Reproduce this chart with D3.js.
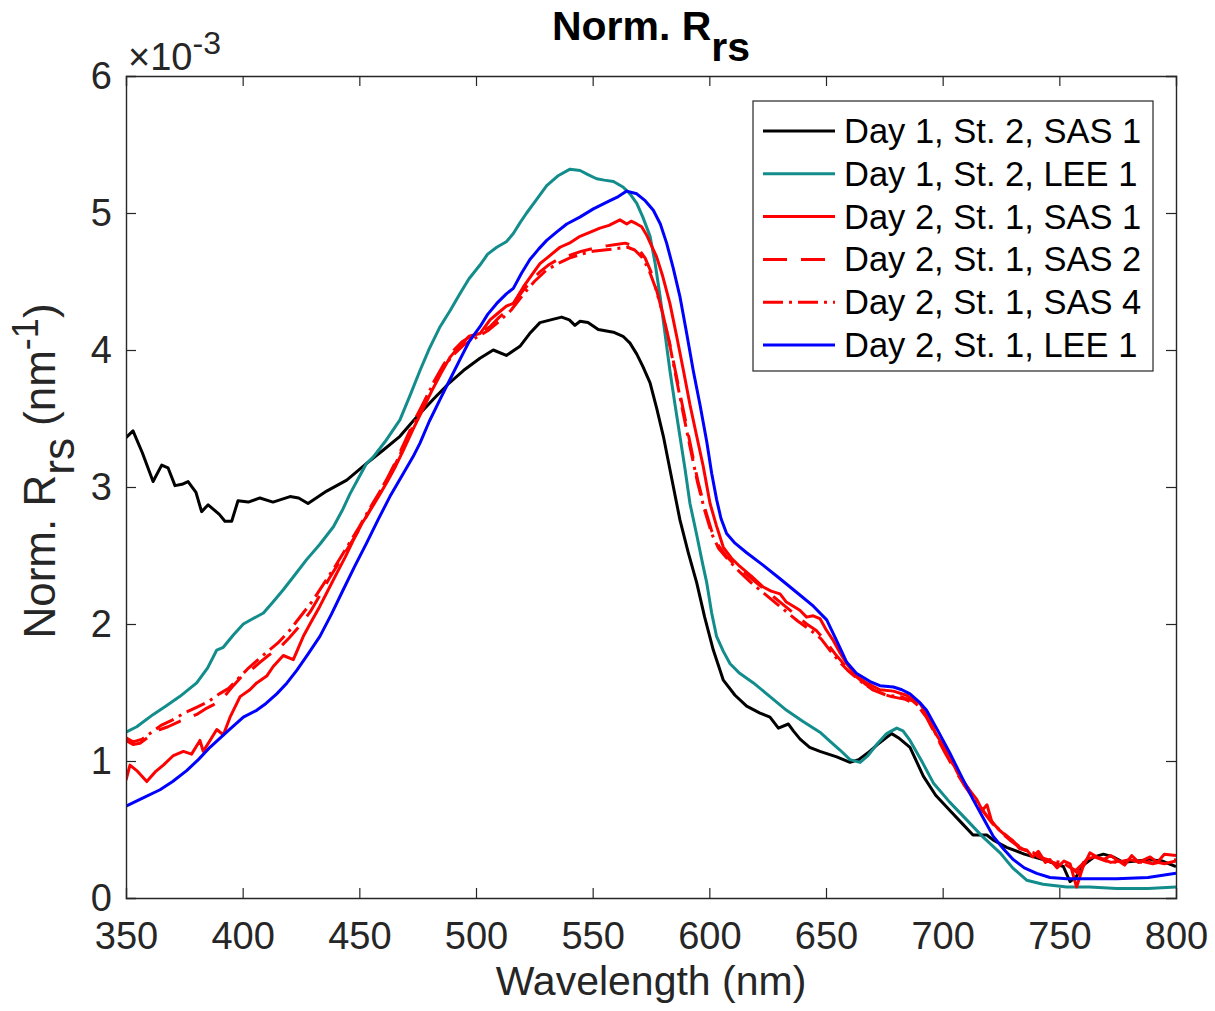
<!DOCTYPE html>
<html>
<head>
<meta charset="utf-8">
<script src="https://cdn.jsdelivr.net/npm/d3@7"></script>
<style>
  html, body { margin: 0; padding: 0; background: #fff; }
  svg { display: block; font-family: "Liberation Sans", Arial, Helvetica, sans-serif; }
</style>
</head>
<body>
<svg id="chart" width="1215" height="1011"></svg>
<script>
// ---------- DATA (values in units of 1e-3 nm^-1) ----------
const xTicks = [350, 400, 450, 500, 550, 600, 650, 700, 750, 800];
const yTicks = [0, 1, 2, 3, 4, 5, 6];
const legendLabels = [
  "Day 1, St. 2, SAS 1",
  "Day 1, St. 2, LEE 1",
  "Day 2, St. 1, SAS 1",
  "Day 2, St. 1, SAS 2",
  "Day 2, St. 1, SAS 4",
  "Day 2, St. 1, LEE 1"
];

const d1SasWl = [350,353,357,361.6,365.3,368,371,374,376.6,380,382.4,385.2,390,392.4,395.3,398,402.4,407.4,413,420.3,424,428,436,444.6,453,460.3,467.4,474,481.7,488,494.6,501.7,507.4,513,519,523,527.4,532,536.7,540,542.4,544.6,548,552.4,558.9,563,566,568.9,571.5,574.6,577.5,580.3,584.6,587.4,591,594.6,598,601.7,606,611,616,621.7,626,629.6,633.9,636,638.9,643,647.4,651,654.6,660.3,664,668,672,678.1,681,686,691.7,697,703,708,713,718.9,722,727.4,735,743,751.7,754.6,757,760.3,765,768.9,773,777.4,783,788.9,794,800];
const d1SasVal = [3.36,3.41,3.25,3.04,3.16,3.14,3.01,3.02,3.04,2.96,2.82,2.87,2.80,2.75,2.75,2.90,2.89,2.92,2.89,2.93,2.92,2.88,2.97,3.05,3.17,3.27,3.37,3.50,3.64,3.75,3.85,3.94,4.00,3.96,4.03,4.12,4.20,4.22,4.24,4.22,4.18,4.21,4.20,4.15,4.13,4.10,4.05,3.97,3.88,3.76,3.57,3.37,3.00,2.76,2.52,2.30,2.05,1.81,1.59,1.48,1.40,1.35,1.32,1.24,1.27,1.22,1.16,1.10,1.07,1.05,1.03,0.99,1.01,1.06,1.12,1.20,1.17,1.10,0.89,0.75,0.64,0.55,0.46,0.46,0.42,0.37,0.32,0.28,0.23,0.12,0.15,0.24,0.30,0.32,0.30,0.26,0.27,0.28,0.27,0.23];

const d1LeeWl = [350,354.6,361.7,367,373,380.3,385,388.9,391.7,396,400.3,404.5,408.9,413,417.4,422,427.4,433,438.9,443,446,449.5,453,456,461,467.4,472,476,480,484.6,489,493.1,497,501.7,505,508.9,513,516,518.9,521.7,526,530.3,535,540.3,544.6,548,551.7,555,558.9,563,566,568.9,571.5,574.6,576.8,578.9,581,583.1,585.3,587.4,589.6,591.7,594.6,597,598.9,601,603.1,606,608.9,613,618.9,626,633.1,640,647.4,652,656,660.3,664.6,668,671.7,676,680.3,683,686,691,696,703,710.3,717,724.6,730,736,743,753.1,763,774.6,788,800];
const d1LeeVal = [1.21,1.25,1.34,1.40,1.47,1.57,1.68,1.81,1.83,1.92,2.00,2.04,2.08,2.16,2.25,2.35,2.47,2.58,2.71,2.84,2.95,3.06,3.17,3.22,3.33,3.49,3.68,3.85,4.01,4.17,4.29,4.41,4.52,4.62,4.70,4.75,4.79,4.85,4.93,5.00,5.10,5.20,5.27,5.32,5.31,5.28,5.25,5.24,5.23,5.19,5.14,5.07,4.97,4.83,4.63,4.39,4.12,3.85,3.60,3.37,3.13,2.88,2.65,2.45,2.30,2.08,1.91,1.80,1.71,1.64,1.57,1.47,1.37,1.29,1.21,1.14,1.08,1.01,0.99,1.04,1.12,1.20,1.24,1.22,1.15,1.00,0.84,0.70,0.57,0.45,0.33,0.22,0.13,0.10,0.08,0.08,0.07,0.07,0.08];

const d2Sas1Wl = [350,351.7,354.6,358.9,362.5,366,370.3,374.6,378.1,381.7,383.1,386,388.9,391.7,394.6,398.9,403.1,406,410.3,413.1,417.4,421.7,426,429.5,433.1,436.7,440.3,444,447.4,451,455,458.9,462,465.5,468.9,473,477,481,485,489,493,497,501.7,506,509.5,513,516,520.3,524,527.4,531,536,540,544.6,549,553.1,557,561.7,564.6,566.5,568.9,571,573.1,575,577.4,580,583.1,586,588.9,591.7,594.6,597.4,600.3,603,606,609.5,613.1,618,623.1,626.5,630.3,633,636,638.8,641.7,644.5,647.4,650,653.1,656,658.9,663,667.4,673.1,678.9,684.5,690.3,693.5,697,700,703,706.5,710,714.6,717,719,721,724,727.4,730,733,736,738.5,741,744,746,749,752,754.6,757.4,760,763.1,766,769,772,774.6,778,781,784,788.9,792,795,800];
const d2Sas1Val = [0.86,0.97,0.93,0.85,0.92,0.97,1.04,1.07,1.05,1.15,1.07,1.15,1.23,1.19,1.32,1.47,1.52,1.57,1.62,1.69,1.77,1.74,1.91,2.02,2.13,2.25,2.37,2.49,2.61,2.73,2.84,2.95,3.04,3.15,3.27,3.42,3.56,3.70,3.83,3.95,4.03,4.10,4.12,4.22,4.27,4.32,4.34,4.46,4.55,4.63,4.68,4.75,4.78,4.83,4.86,4.89,4.91,4.95,4.92,4.94,4.92,4.90,4.84,4.77,4.68,4.54,4.34,4.10,3.85,3.60,3.37,3.15,2.88,2.72,2.56,2.48,2.42,2.35,2.27,2.24,2.22,2.16,2.13,2.10,2.05,2.06,2.04,1.96,1.88,1.79,1.71,1.62,1.57,1.52,1.51,1.48,1.42,1.33,1.20,1.12,1.03,0.91,0.82,0.72,0.64,0.68,0.56,0.50,0.45,0.42,0.36,0.35,0.30,0.34,0.26,0.28,0.22,0.27,0.25,0.08,0.22,0.33,0.30,0.28,0.31,0.28,0.24,0.31,0.26,0.30,0.26,0.32,0.31];

const d2Sas2Wl = [350,353,356,360,364.6,368,373,376,380.3,384,387.4,390,393.1,396,400.3,404,407.4,411,416,420,424.6,429,433.1,437,441.7,446,450.3,454.5,458.9,462.5,466,470,474,478,482,486,490,494,498,502,506,510,513,516,520,524,527.4,531,535,540,545,550,556,560,564,567.4,570,572.5,575,577.5,580,583,586,589,592,595,598,601,604,607,611,616,621,626,631,636,641.7,646,650,654,658,662,667,672,678,684,689,693,697,701,705,709,713,717,721,725,729,733,737,741,745,749,753,757,760,764,768,772,776,780,785,790,795,800];
const d2Sas2Val = [1.15,1.12,1.13,1.18,1.23,1.25,1.29,1.31,1.34,1.38,1.41,1.44,1.49,1.55,1.63,1.67,1.72,1.77,1.83,1.90,1.99,2.09,2.21,2.33,2.46,2.58,2.70,2.83,2.97,3.08,3.20,3.35,3.50,3.63,3.77,3.89,3.99,4.06,4.10,4.13,4.17,4.24,4.28,4.34,4.43,4.51,4.57,4.62,4.66,4.69,4.72,4.74,4.76,4.77,4.78,4.76,4.73,4.67,4.57,4.43,4.27,4.05,3.80,3.55,3.30,3.05,2.85,2.68,2.57,2.50,2.43,2.36,2.29,2.22,2.15,2.08,2.00,1.95,1.87,1.78,1.70,1.63,1.56,1.50,1.47,1.45,1.41,1.32,1.19,1.06,0.94,0.83,0.73,0.64,0.55,0.48,0.42,0.37,0.33,0.30,0.27,0.25,0.24,0.20,0.25,0.32,0.29,0.26,0.27,0.24,0.27,0.25,0.27,0.28];

const d2Sas4Wl = [350,353,357,361,365,370,375,380,385,390,394,398,402,406,410,415,420,425,430,435,440,445,450,455,460,465,470,475,480,485,490,495,500,505,510,515,520,525,530,535,540,545,550,555,560,565,568,571,574,577,580,583,586,589,592,595,598,601,604,608,613,618,623,628,633,638,643,648,652,656,660,665,670,676,682,687,691,695,699,703,707,711,715,719,723,727,731,735,739,743,747,751,755,758,761,765,770,775,780,785,790,795,800];
const d2Sas4Val = [1.17,1.14,1.16,1.21,1.26,1.30,1.35,1.39,1.43,1.49,1.53,1.60,1.67,1.73,1.79,1.86,1.95,2.06,2.17,2.30,2.43,2.57,2.71,2.86,3.00,3.15,3.33,3.52,3.70,3.85,3.96,4.04,4.09,4.14,4.21,4.29,4.40,4.50,4.58,4.63,4.67,4.70,4.72,4.73,4.74,4.75,4.73,4.68,4.59,4.45,4.27,4.04,3.78,3.52,3.27,3.03,2.83,2.66,2.55,2.47,2.38,2.30,2.23,2.16,2.09,2.02,1.96,1.89,1.80,1.72,1.65,1.58,1.52,1.48,1.47,1.44,1.38,1.27,1.13,1.02,0.90,0.80,0.69,0.60,0.52,0.46,0.40,0.35,0.33,0.29,0.27,0.26,0.22,0.18,0.28,0.30,0.27,0.26,0.28,0.26,0.27,0.25,0.27];

const d2LeeWl = [350,356,364.6,370,376,381,386,393.1,400.3,406,410,414.6,419,423.1,428,433.1,438,443.1,448,453.1,458,463.1,468.9,473,476,480,484.6,489,493.1,497,501.7,505,508.9,513,516,519.5,523.1,527,530.3,534.5,538.9,544.5,550.3,557.4,561,564.6,568.9,572.5,576,579,581.7,584.5,587.4,590.3,593.1,596,598.9,601,603.1,605,607.4,611,616,623,630.3,637.5,644.6,650.3,654.5,658.9,663,668.9,673.1,678.9,682.5,686,690,693.1,698,703,708,713,717.5,721.7,726,730.3,735,740.3,746,753.1,763,774.6,788,800];
const d2LeeVal = [0.67,0.72,0.79,0.85,0.93,1.01,1.10,1.21,1.32,1.37,1.42,1.49,1.57,1.66,1.78,1.91,2.07,2.25,2.42,2.59,2.76,2.93,3.10,3.22,3.32,3.48,3.64,3.79,3.93,4.06,4.17,4.26,4.34,4.41,4.45,4.56,4.66,4.74,4.80,4.86,4.92,4.97,5.03,5.09,5.12,5.16,5.14,5.09,5.02,4.92,4.78,4.60,4.39,4.12,3.85,3.60,3.33,3.10,2.91,2.77,2.66,2.59,2.52,2.43,2.33,2.23,2.13,2.03,1.88,1.72,1.64,1.58,1.55,1.54,1.52,1.49,1.43,1.37,1.22,1.06,0.89,0.72,0.58,0.45,0.36,0.28,0.22,0.18,0.15,0.14,0.14,0.14,0.15,0.18];

const seriesWl = [d1SasWl, d1LeeWl, d2Sas1Wl, d2Sas2Wl, d2Sas4Wl, d2LeeWl];
const seriesVal = [d1SasVal, d1LeeVal, d2Sas1Val, d2Sas2Val, d2Sas4Val, d2LeeVal];
const seriesColor = ["#000000", "#138c8c", "#ff0000", "#ff0000", "#ff0000", "#0000ff"];
const seriesDash = [null, null, null, "24,14", "20,6,3,6", null];

// ---------- LAYOUT ----------
const svg = d3.select("#chart");
const L = 126, R = 1176, T = 76, B = 898;
const axisColor = "#262626";
const x = d3.scaleLinear().domain([350, 800]).range([L, R]);
const y = d3.scaleLinear().domain([0, 6]).range([B, T]);

svg.append("defs").append("clipPath").attr("id", "clip")
  .append("rect").attr("x", L).attr("y", T).attr("width", R - L).attr("height", B - T);

// lines
const line = d3.line().x(d => x(d[0])).y(d => y(d[1]));
const gLines = svg.append("g").attr("clip-path", "url(#clip)");
seriesWl.forEach((wl, i) => {
  const pts = wl.map((w, j) => [w, seriesVal[i][j]]);
  gLines.append("path")
    .datum(pts)
    .attr("d", line)
    .attr("fill", "none")
    .attr("stroke", seriesColor[i])
    .attr("stroke-width", 3)
    .attr("stroke-linejoin", "round")
    .attr("stroke-dasharray", seriesDash[i]);
});

// axes
const tickLen = 10;
const fontTick = 38;
const gx = svg.append("g").attr("transform", `translate(0,${B})`)
  .call(d3.axisBottom(x).tickValues(xTicks).tickSize(-tickLen).tickPadding(24).tickFormat(d3.format("d")));
const gxTop = svg.append("g").attr("transform", `translate(0,${T})`)
  .call(d3.axisTop(x).tickValues(xTicks).tickSize(-tickLen).tickFormat(""));
const gy = svg.append("g").attr("transform", `translate(${L},0)`)
  .call(d3.axisLeft(y).tickValues(yTicks).tickSize(-tickLen).tickPadding(14).tickFormat(d3.format("d")));
const gyR = svg.append("g").attr("transform", `translate(${R},0)`)
  .call(d3.axisRight(y).tickValues(yTicks).tickSize(-tickLen).tickFormat(""));

[gx, gxTop, gy, gyR].forEach(g => {
  g.select(".domain").attr("stroke", axisColor).attr("stroke-width", 1.4);
  g.selectAll(".tick line").attr("stroke", axisColor).attr("stroke-width", 1.2);
  g.selectAll(".tick text").attr("fill", axisColor)
    .style("font-family", '"Liberation Sans", Arial, sans-serif')
    .style("font-size", fontTick + "px");
});
gx.selectAll(".tick line").filter(d => d === 350 || d === 800).attr("opacity", 0);
gxTop.selectAll(".tick line").filter(d => d === 350 || d === 800).attr("opacity", 0);
gy.selectAll(".tick line").filter(d => d === 0 || d === 6).attr("opacity", 0);
gyR.selectAll(".tick line").filter(d => d === 0 || d === 6).attr("opacity", 0);

// exponent label
const expo = svg.append("text").attr("x", L + 2).attr("y", 70)
  .attr("fill", axisColor).style("font-size", "38px");
expo.append("tspan").text("\u00d710");
expo.append("tspan").attr("dy", -16).style("font-size", "32px").text("-3");

// title (MATLAB TeX: subscript at full size, shifted down)
const title = svg.append("text").attr("x", (L + R) / 2).attr("y", 40)
  .attr("text-anchor", "middle").attr("fill", "#000")
  .style("font-size", "41px").style("font-weight", "bold");
title.append("tspan").text("Norm. R");
title.append("tspan").attr("dy", 21).text("rs");

// x label
svg.append("text").attr("x", (L + R) / 2).attr("y", 995)
  .attr("text-anchor", "middle").attr("fill", axisColor)
  .style("font-size", "41px").text("Wavelength (nm)");

// y label
const ylab = svg.append("text")
  .attr("transform", `translate(55,${(T + B) / 2 - 16}) rotate(-90)`)
  .attr("text-anchor", "middle").attr("fill", axisColor)
  .style("font-size", "44px");
ylab.append("tspan").text("Norm. R");
ylab.append("tspan").attr("dy", 19).text("rs");
ylab.append("tspan").attr("dy", -19).text(" (nm");
ylab.append("tspan").attr("dy", -17).style("font-size", "36px").text("-1");
ylab.append("tspan").attr("dy", 17).text(")");

// legend
const lg = svg.append("g");
lg.append("rect").attr("x", 753).attr("y", 101).attr("width", 400).attr("height", 270)
  .attr("fill", "#fff").attr("stroke", axisColor).attr("stroke-width", 1.2);
legendLabels.forEach((lab, i) => {
  const yy = 131 + i * 42.8;
  lg.append("line").attr("x1", 763).attr("x2", 835).attr("y1", yy).attr("y2", yy)
    .attr("stroke", seriesColor[i]).attr("stroke-width", 3)
    .attr("stroke-dasharray", seriesDash[i]);
  lg.append("text").attr("x", 844).attr("y", yy).attr("dy", "0.35em")
    .attr("fill", "#000").style("font-size", "34.5px").text(lab);
});
</script>
</body>
</html>
